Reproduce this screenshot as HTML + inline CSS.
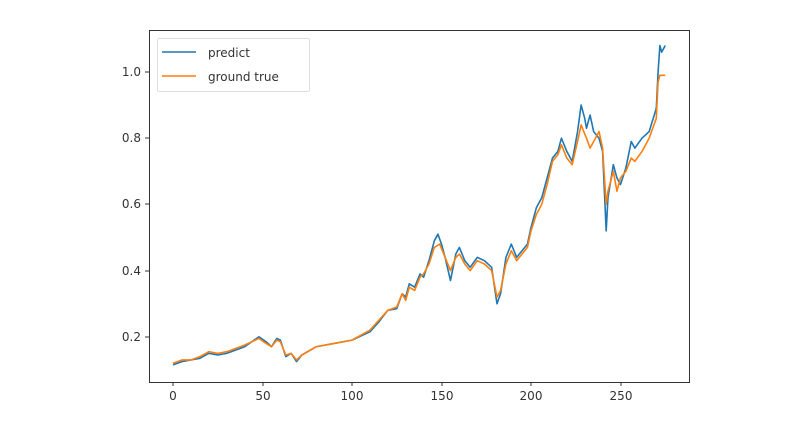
<!DOCTYPE html>
<html><head><meta charset="utf-8"><style>
body{margin:0;background:#fff;width:800px;height:440px;overflow:hidden}
text{font-family:"DejaVu Sans","Liberation Sans",sans-serif;font-size:12px;fill:#333}
</style></head><body>
<svg width="800" height="440" xmlns="http://www.w3.org/2000/svg">
<rect width="800" height="440" fill="#fff"/>
<g transform="translate(173,403) scale(1.79,-331)" fill="none" stroke-width="1.6" stroke-linejoin="round">
<polyline vector-effect="non-scaling-stroke" stroke="#1f77b4" points="0,0.115 5,0.125 10,0.13 15,0.135 20,0.15 25,0.145 30,0.15 40,0.17 48,0.2 52,0.185 55,0.17 58,0.195 60,0.19 63,0.14 66,0.15 69,0.125 72,0.145 80,0.17 90,0.18 100,0.19 110,0.215 115,0.245 120,0.28 125,0.285 128,0.33 130,0.32 132,0.36 135,0.35 138,0.39 140,0.38 143,0.43 146,0.49 148,0.51 150,0.48 152,0.44 155,0.37 158,0.45 160,0.47 163,0.43 166,0.41 170,0.44 174,0.43 178,0.41 181,0.30 183,0.33 186,0.44 189,0.48 192,0.44 195,0.46 198,0.48 200,0.53 203,0.59 206,0.62 209,0.68 212,0.74 215,0.76 217,0.80 220,0.76 223,0.73 226,0.82 228,0.90 230,0.86 231,0.83 233,0.87 235,0.82 238,0.80 240,0.76 242,0.52 243,0.62 246,0.72 248,0.68 250,0.66 253,0.71 256,0.79 258,0.77 262,0.80 266,0.82 270,0.89 271,1.0 272,1.08 273,1.06 275,1.08"/>
<polyline vector-effect="non-scaling-stroke" stroke="#ff7f0e" points="0,0.12 5,0.13 10,0.13 15,0.14 20,0.155 25,0.15 30,0.155 40,0.175 48,0.195 52,0.18 55,0.17 58,0.19 60,0.185 63,0.145 66,0.15 69,0.13 72,0.145 80,0.17 90,0.18 100,0.19 110,0.22 115,0.25 120,0.28 125,0.29 128,0.33 130,0.31 132,0.35 135,0.34 138,0.38 140,0.39 143,0.42 146,0.47 149,0.48 152,0.44 155,0.40 158,0.44 160,0.45 163,0.42 166,0.40 170,0.43 174,0.42 178,0.40 181,0.32 183,0.34 186,0.42 189,0.46 192,0.43 195,0.45 198,0.47 200,0.52 203,0.57 206,0.60 209,0.66 212,0.73 215,0.75 217,0.78 220,0.74 223,0.72 226,0.79 228,0.84 231,0.80 233,0.77 236,0.80 238,0.82 240,0.77 242,0.60 243,0.64 246,0.70 248,0.64 250,0.68 253,0.70 256,0.74 258,0.73 262,0.76 266,0.80 270,0.86 271,0.97 272,0.99 275,0.99"/>
</g>
<rect x="149.5" y="30.5" width="540" height="352" fill="none" stroke="#333" stroke-width="1"/>
<g stroke="#333">
<line x1="173" y1="382" x2="173" y2="386"/><line x1="263" y1="382" x2="263" y2="386"/><line x1="352" y1="382" x2="352" y2="386"/><line x1="442" y1="382" x2="442" y2="386"/><line x1="531" y1="382" x2="531" y2="386"/><line x1="621" y1="382" x2="621" y2="386"/>
<line x1="145" y1="337" x2="149" y2="337"/><line x1="145" y1="271" x2="149" y2="271"/><line x1="145" y1="204" x2="149" y2="204"/><line x1="145" y1="138" x2="149" y2="138"/><line x1="145" y1="72" x2="149" y2="72"/>
</g>
<g text-anchor="middle">
<text x="173" y="400">0</text><text x="263" y="400">50</text><text x="352" y="400">100</text><text x="442" y="400">150</text><text x="531" y="400">200</text><text x="621" y="400">250</text>
</g>
<g text-anchor="end">
<text x="141" y="341">0.2</text><text x="141" y="275">0.4</text><text x="141" y="208">0.6</text><text x="141" y="142">0.8</text><text x="141" y="76">1.0</text>
</g>
<rect x="157.5" y="38.5" width="152" height="53" rx="2" fill="#fff" stroke="#ddd"/>
<line x1="162" y1="52" x2="196" y2="52" stroke="#1f77b4" stroke-width="1.6"/>
<line x1="162" y1="76" x2="196" y2="76" stroke="#ff7f0e" stroke-width="1.6"/>
<text x="208" y="57">predict</text>
<text x="208" y="81">ground true</text>
</svg>
</body></html>
